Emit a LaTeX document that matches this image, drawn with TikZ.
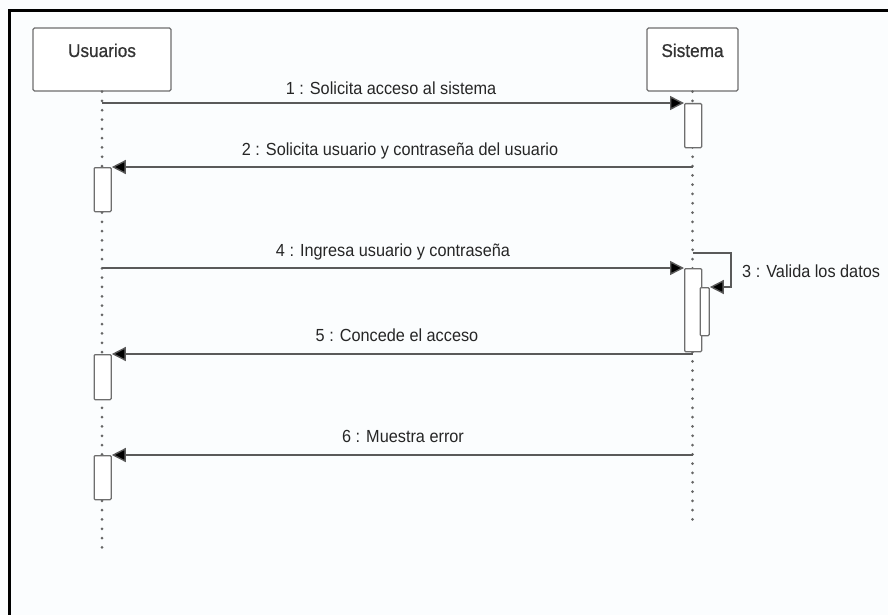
\documentclass[tikz,border=0pt]{standalone}
\usepackage{fontspec}
\setmainfont{Liberation Sans}
\newfontfamily\labelfont{Liberation Sans}[FakeStretch=0.93]
\newfontfamily\namefont{Liberation Sans}[FakeStretch=0.93, FakeBold=0.7]
\usetikzlibrary{arrows.meta}
\definecolor{bgc}{HTML}{FBFDFE}
\definecolor{linec}{HTML}{5A5A5A}
\definecolor{boxc}{HTML}{6E6E6E}
\definecolor{dotc}{HTML}{666666}
\tikzset{
  actor/.style={draw=boxc, line width=1.3pt, fill=white, rounded corners=1.5pt,
    minimum width=138pt, minimum height=63pt, inner sep=0pt},
  actorname/.style={anchor=base, font=\namefont\fontsize{18.5}{20}\selectfont, text=black!80, inner sep=0pt},
  act/.style={draw=boxc, line width=1.3pt, fill=white, rounded corners=1pt,
    minimum width=17pt, inner sep=0pt},
  lifeline/.style={draw=dotc, line width=3pt, line cap=round, dash pattern=on 0pt off 9.3pt},
  msg/.style={draw=linec, line width=1.4pt, -{Triangle[length=14pt, width=14pt, fill=black]}},
  msglabel/.style={font=\labelfont\fontsize{17.5}{20}\selectfont, text=black!85, inner sep=0pt, anchor=base}
}
\begin{document}
\begin{tikzpicture}[x=1pt, y=-1pt]
  \useasboundingbox (0,0) rectangle (888,615);
  \fill[bgc] (0,0) rectangle (888,615);
  % outer frame (left and top edges visible)
  \draw[black, line width=3pt] (9.5,615) -- (9.5,10.5) -- (888,10.5);

  % participants
  \node[actor] (u) at (102,59.5) {};
  \node[actorname] at (102,57) {Usuarios};
  \node[actor, minimum width=91pt] (s) at (692.5,59.5) {};
  \node[actorname] at (692.5,57) {Sistema};

  % lifeline ends
  \coordinate (uend) at (102,553);
  \coordinate (send) at (692.5,527);
  \draw[lifeline] (u.south) -- (uend);
  \draw[lifeline] (s.south) -- (send);

  % activation bars
  \node[act, minimum height=44pt, anchor=north west] (s1) at (684,103) {};
  \node[act, minimum height=44pt, anchor=north west] (u1) at (93.5,167) {};
  \node[act, minimum height=83pt, anchor=north west] (s2) at (684,268) {};
  \node[act, minimum width=9pt, minimum height=48pt, anchor=north west] (s3) at (699.5,287) {};
  \node[act, minimum height=45pt, anchor=north west] (u2) at (93.5,354) {};
  \node[act, minimum height=44pt, anchor=north west] (u3) at (93.5,455) {};

  % messages
  \draw[msg] (u.south |- s1.north west) -- (s1.north west);
  \node[msglabel] at (391,95) {1 : Solicita acceso al sistema};

  \draw[msg] (s.south |- u1.north east) -- (u1.north east);
  \node[msglabel] at (400,155) {2 : Solicita usuario y contraseña del usuario};

  \coordinate (self) at (731,253);
  \draw[msg] (s.south |- self) -- (self) -- (self |- s3.north east) -- (s3.north east);
  \node[msglabel, anchor=base west] at (742,277) {3 : Valida los datos};

  \draw[msg] (u.south |- s2.north west) -- (s2.north west);
  \node[msglabel] at (393,256) {4 : Ingresa usuario y contraseña};

  \draw[msg] (s.south |- u2.north east) -- (u2.north east);
  \node[msglabel] at (397,341) {5 : Concede el acceso};

  \draw[msg] (s.south |- u3.north east) -- (u3.north east);
  \node[msglabel] at (403,442) {6 : Muestra error};
\end{tikzpicture}
\end{document}
